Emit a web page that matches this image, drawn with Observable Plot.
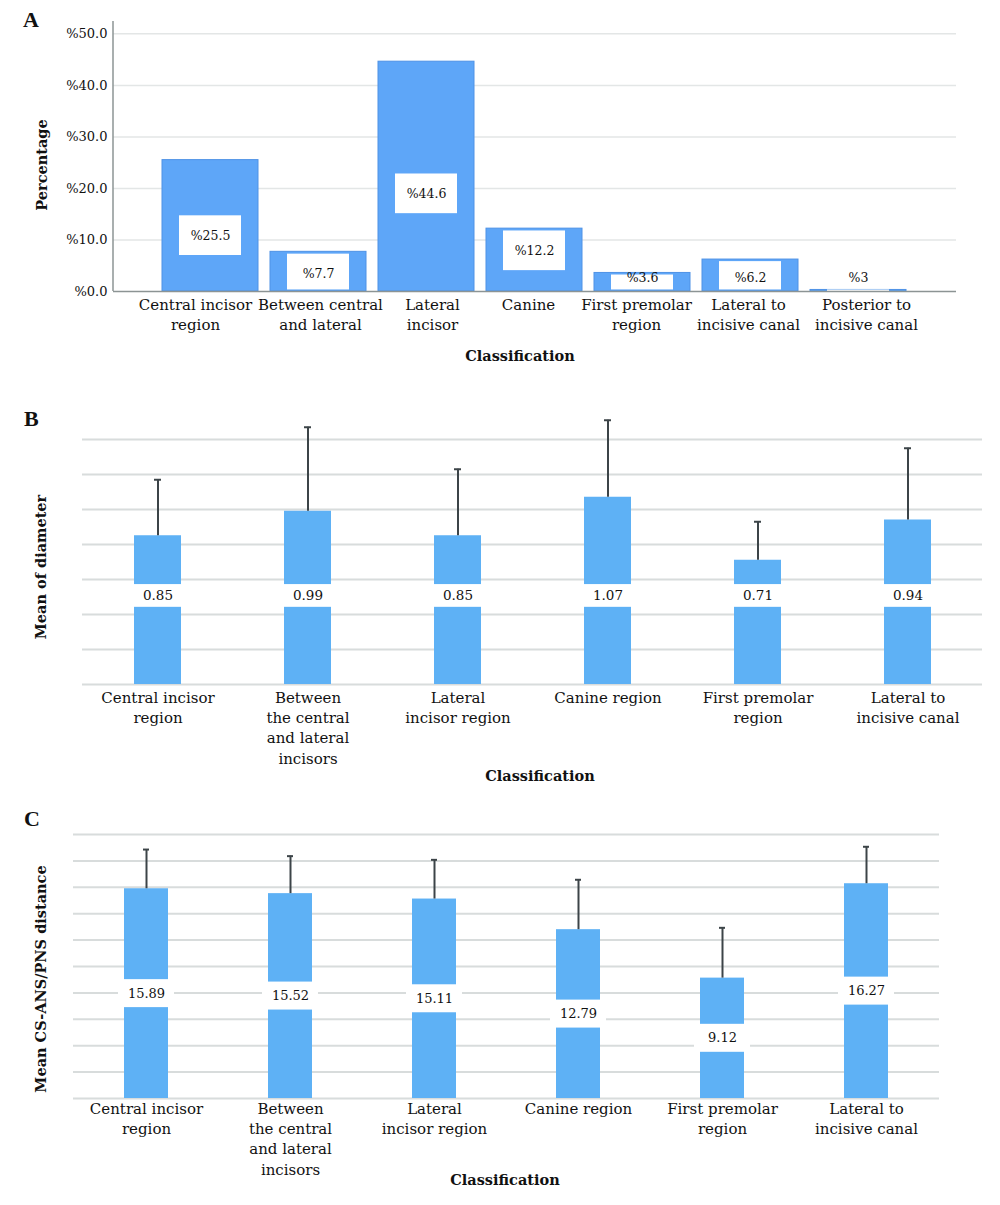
<!DOCTYPE html>
<html><head><meta charset="utf-8">
<script src="https://cdn.jsdelivr.net/npm/d3@7"></script>
<script src="https://cdn.jsdelivr.net/npm/@observablehq/plot@0.6"></script>
<style>
body{margin:0;background:#fff;}
#root{position:relative;width:1000px;height:1205px;font-family:"DejaVu Serif",serif;color:#111;overflow:hidden;}
.panel{position:absolute;left:0;width:1000px;}
.panel svg{display:block;}
.letter{position:absolute;font:bold 22px "Liberation Serif",serif;line-height:1;}
.xt{position:absolute;font:bold 14.5px "DejaVu Serif",serif;transform:translate(-50%,-50%);white-space:nowrap;}
.yt{position:absolute;font:bold 14.5px "DejaVu Serif",serif;transform:translate(-50%,-50%) rotate(-90deg);white-space:nowrap;}
</style></head>
<body><div id="root"></div>
<script>
// ---------- data ----------
const catA = ["Central incisor\nregion","Between central\nand lateral","Lateral\nincisor","Canine","First premolar\nregion","Lateral to\nincisive canal","Posterior to\nincisive canal"];
const pctA = [25.5, 7.7, 44.6, 12.2, 3.6, 6.2, 0.3];
const lblA = ["%25.5","%7.7","%44.6","%12.2","%3.6","%6.2","%3"];
const ticksA = [0, 10, 20, 30, 40, 50];

const catB = ["Central incisor\nregion","Between\nthe central\nand lateral\nincisors","Lateral\nincisor region","Canine region","First premolar\nregion","Lateral to\nincisive canal"];
const meanB = [0.85, 0.99, 0.85, 1.07, 0.71, 0.94];
const sdB = [0.32, 0.48, 0.38, 0.44, 0.22, 0.41];
const gridB = [0.2, 0.4, 0.6, 0.8, 1.0, 1.2, 1.4];

const catC = ["Central incisor\nregion","Between\nthe central\nand lateral\nincisors","Lateral\nincisor region","Canine region","First premolar\nregion","Lateral to\nincisive canal"];
const meanC = [15.89, 15.52, 15.11, 12.79, 9.12, 16.27];
const sdC = [2.97, 2.84, 2.97, 3.78, 3.81, 2.80];
const gridC = [2, 4, 6, 8, 10, 12, 14, 16, 18, 20];

// ---------- helpers ----------
const root = document.getElementById("root");
function panel(top, node){ const d=document.createElement("div"); d.className="panel"; d.style.top=top+"px"; d.appendChild(node); root.appendChild(d); }
function html(cls, text, x, y){ const d=document.createElement("div"); d.className=cls; d.textContent=text; d.style.left=x+"px"; d.style.top=y+"px"; root.appendChild(d); }
function leftLine(color){
  return (index, scales, values, dims) => {
    const l = document.createElementNS("http://www.w3.org/2000/svg","line");
    l.setAttribute("x1", dims.marginLeft); l.setAttribute("x2", dims.marginLeft);
    l.setAttribute("y1", dims.marginTop); l.setAttribute("y2", dims.height - dims.marginBottom);
    l.setAttribute("stroke", color); l.setAttribute("stroke-width", 1.5);
    return l;
  };
}

// ---------- Panel A ----------
const dataA = catA.map((c,i)=>{
  const v = pctA[i];
  const cy = v >= 20 ? v*0.425 : Math.max(v-4.3, 2.6);
  return {cat:c, v, lbl:lblA[i], cy, b1:Math.max(cy-3.85, 0.3), b2:Math.min(cy+3.85, v-0.4)};
});
const catTextA = {x:"cat", text:"cat", frameAnchor:"bottom", lineAnchor:"top", dy:4, fontSize:15, lineHeight:1.35, fill:"#111"};
const plotA = Plot.plot({
  width:1000, height:370, marginLeft:113, marginRight:44, marginTop:21, marginBottom:79,
  style:{fontFamily:"DejaVu Serif", color:"#111", background:"white"},
  x:{domain:catA, paddingInner:0.109, paddingOuter:0, insetLeft:48, insetRight:48, axis:null},
  y:{domain:[0,52.4], axis:null},
  marks:[
    Plot.ruleY(ticksA.slice(1), {stroke:"#e3e6e6", strokeWidth:1.5}),
    Plot.barY(dataA, {x:"cat", y:"v", fill:"#5ea6f8", stroke:"#4e92e6", strokeWidth:1}),
    Plot.barY(dataA, {x:"cat", y1:"b1", y2:"b2", fill:"white", insetLeft:17, insetRight:17}),
    Plot.text(dataA, {x:"cat", y:"cy", text:"lbl", fontSize:12.5, fill:"#111"}),
    Plot.ruleY([0], {stroke:"#8c9494", strokeWidth:1.5}),
    leftLine("#8c9494"),
    Plot.text(ticksA, {y:d=>d, text:d=>"%"+d.toFixed(1), frameAnchor:"left", textAnchor:"end", dx:-6, fontSize:13, fill:"#111"}),
    Plot.text(dataA.slice(0,1), {...catTextA, dx:-15}),
    Plot.text(dataA.slice(1,2), {...catTextA, dx:2}),
    Plot.text(dataA.slice(2,3), {...catTextA, dx:6}),
    Plot.text(dataA.slice(3,5), {...catTextA, dx:-6}),
    Plot.text(dataA.slice(5,6), {...catTextA, dx:-2}),
    Plot.text(dataA.slice(6), {...catTextA, dx:8})
  ]
});
panel(0, plotA);
html("letter","A",23,9);
html("yt","Percentage",41,165);
html("xt","Classification",520,355);

// ---------- Panel B ----------
const dataB = catB.map((c,i)=>({cat:c, m:meanB[i], top:meanB[i]+sdB[i]}));
const plotB = Plot.plot({
  width:1000, height:410, marginLeft:82, marginRight:18, marginTop:24, marginBottom:106,
  style:{fontFamily:"DejaVu Serif", color:"#111", background:"white"},
  x:{domain:catB, paddingInner:0.69, paddingOuter:0.345, axis:null},
  y:{domain:[0,1.6], axis:null},
  marks:[
    Plot.ruleY([0, ...gridB], {stroke:"#d8dcdc", strokeWidth:2}),
    Plot.barY(dataB, {x:"cat", y:"m", fill:"#5eb1f5"}),
    Plot.ruleX(dataB, {x:"cat", y1:"m", y2:"top", stroke:"#3c4448", strokeWidth:2}),
    Plot.tickY(dataB, {x:"cat", y:"top", stroke:"#3c4448", strokeWidth:2, insetLeft:20, insetRight:20}),
    Plot.barY(dataB, {x:"cat", y1:0.441, y2:0.571, fill:"white"}),
    Plot.text(dataB, {x:"cat", y:0.506, text:d=>d.m.toFixed(2), fontSize:13.5, fill:"#111"}),
    Plot.text(dataB, {x:"cat", text:"cat", frameAnchor:"bottom", lineAnchor:"top", dy:4, fontSize:15, lineHeight:1.35, fill:"#111"})
  ]
});
panel(380, plotB);
html("letter","B",24,408);
html("yt","Mean of diameter",40,567);
html("xt","Classification",540,775);

// ---------- Panel C ----------
const dataC = catC.map((c,i)=>({cat:c, m:meanC[i], top:meanC[i]+sdC[i], mid:meanC[i]/2}));
const plotC = Plot.plot({
  width:1000, height:415, marginLeft:73, marginRight:61, marginTop:44, marginBottom:107,
  style:{fontFamily:"DejaVu Serif", color:"#111", background:"white"},
  x:{domain:catC, paddingInner:0.693, paddingOuter:0.3465, axis:null},
  y:{domain:[0,20], axis:null},
  marks:[
    Plot.ruleY([0, ...gridC], {stroke:"#d8dcdc", strokeWidth:2}),
    Plot.barY(dataC, {x:"cat", y:"m", fill:"#5eb1f5"}),
    Plot.ruleX(dataC, {x:"cat", y1:"m", y2:"top", stroke:"#3c4448", strokeWidth:2}),
    Plot.tickY(dataC, {x:"cat", y:"top", stroke:"#3c4448", strokeWidth:2, insetLeft:19, insetRight:19}),
    Plot.barY(dataC, {x:"cat", y1:d=>d.mid-1.06, y2:d=>d.mid+1.06, fill:"white", insetLeft:-6, insetRight:-6}),
    Plot.text(dataC, {x:"cat", y:"mid", text:d=>d.m.toFixed(2), fontSize:13, fill:"#111"}),
    Plot.text(dataC, {x:"cat", text:"cat", frameAnchor:"bottom", lineAnchor:"top", dy:1, fontSize:15, lineHeight:1.35, fill:"#111"})
  ]
});
panel(790, plotC);
html("letter","C",24,808);
html("yt","Mean CS-ANS/PNS distance",40,979);
html("xt","Classification",505,1179);
</script>
</body></html>
